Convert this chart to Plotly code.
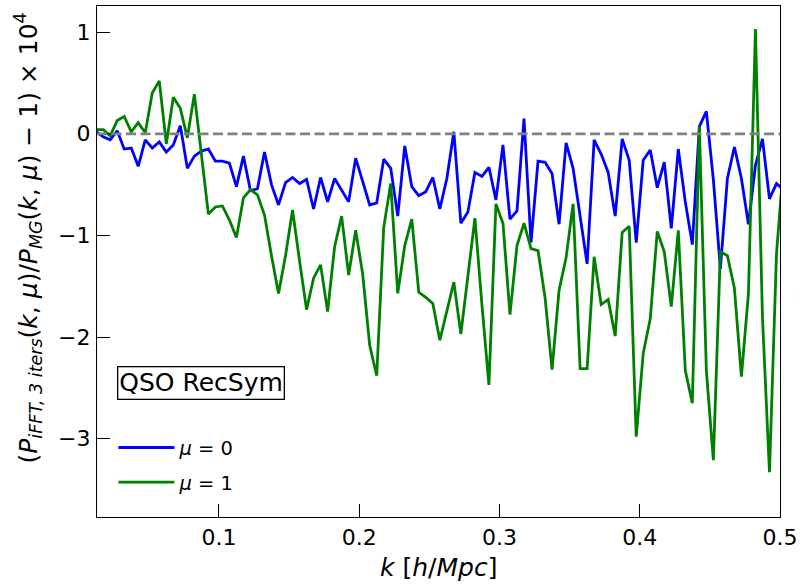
import plotly.graph_objects as go

# k bins [h/Mpc]
k = [0.0125, 0.0175, 0.0225, 0.0275, 0.0325, 0.0375, 0.0425, 0.0475, 0.0525, 0.0575,
     0.0625, 0.0675, 0.0725, 0.0775, 0.0825, 0.0875, 0.0925, 0.0975, 0.1025, 0.1075,
     0.1125, 0.1175, 0.1225, 0.1275, 0.1325, 0.1375, 0.1425, 0.1475, 0.1525, 0.1575,
     0.1625, 0.1675, 0.1725, 0.1775, 0.1825, 0.1875, 0.1925, 0.1975, 0.2025, 0.2075,
     0.2125, 0.2175, 0.2225, 0.2275, 0.2325, 0.2375, 0.2425, 0.2475, 0.2525, 0.2575,
     0.2625, 0.2675, 0.2725, 0.2775, 0.2825, 0.2875, 0.2925, 0.2975, 0.3025, 0.3075,
     0.3125, 0.3175, 0.3225, 0.3275, 0.3325, 0.3375, 0.3425, 0.3475, 0.3525, 0.3575,
     0.3625, 0.3675, 0.3725, 0.3775, 0.3825, 0.3875, 0.3925, 0.3975, 0.4025, 0.4075,
     0.4125, 0.4175, 0.4225, 0.4275, 0.4325, 0.4375, 0.4425, 0.4475, 0.4525, 0.4575,
     0.4625, 0.4675, 0.4725, 0.4775, 0.4825, 0.4875, 0.4925, 0.4975, 0.5025]

# (P_iFFT / P_MG - 1) x 1e4, mu = 0
ratio_mu0 = [0.02, -0.03, -0.06, 0.03, -0.15, -0.14, -0.32, -0.06, -0.14, -0.08,
             -0.18, -0.11, 0.08, -0.34, -0.22, -0.17, -0.15, -0.27, -0.27, -0.29,
             -0.52, -0.22, -0.56, -0.54, -0.18, -0.50, -0.70, -0.48, -0.43, -0.49,
             -0.45, -0.74, -0.43, -0.67, -0.44, -0.55, -0.67, -0.24, -0.47, -0.70,
             -0.68, -0.25, -0.34, -0.81, -0.12, -0.52, -0.61, -0.57, -0.43, -0.74,
             -0.44, 0.02, -0.88, -0.77, -0.38, -0.42, -0.33, -0.65, -0.11, -0.84,
             -0.76, 0.15, -1.07, -0.27, -0.28, -0.39, -0.89, -0.09, -0.34, -0.80,
             -1.28, -0.06, -0.20, -0.38, -0.81, -0.05, -0.26, -1.07, -0.26, -0.16,
             -0.53, -0.28, -0.93, -0.15, -0.67, -1.09, 0.07, 0.22, -0.45, -1.33,
             -0.44, -0.13, -0.44, -0.89, -0.31, -0.05, -0.64, -0.49, -0.55]

# mu = 1
ratio_mu1 = [0.04, 0.04, -0.02, 0.13, 0.17, 0.02, 0.11, 0.01, 0.40, 0.52,
             -0.10, 0.36, 0.25, -0.04, 0.39, -0.20, -0.79, -0.72, -0.71, -0.85,
             -1.02, -0.63, -0.55, -0.60, -0.80, -1.20, -1.57, -1.20, -0.75, -1.25,
             -1.73, -1.42, -1.29, -1.75, -1.11, -0.81, -1.39, -0.95, -1.38, -2.08,
             -2.38, -0.92, -0.49, -1.57, -1.10, -0.84, -1.56, -1.61, -1.67, -2.03,
             -1.74, -1.46, -1.97, -1.40, -0.83, -1.68, -2.47, -0.69, -0.88, -1.78,
             -1.10, -0.88, -1.13, -1.15, -1.61, -2.32, -1.54, -1.22, -0.69, -2.31,
             -2.31, -1.21, -1.68, -1.63, -1.99, -0.97, -0.91, -2.98, -2.16, -1.82,
             -0.96, -1.16, -1.70, -0.95, -2.33, -2.65, 0.07, -2.33, -3.21, -1.16,
             -1.20, -1.52, -2.39, -1.57, 1.03, -1.81, -3.33, -1.18, -0.30]

x_ticks = [0.1, 0.2, 0.3, 0.4, 0.5]
y_ticks = [-3, -2, -1, 0, 1]

FONT = "DejaVu Sans"

fig = go.Figure()
fig.add_trace(go.Scatter(x=k, y=ratio_mu0, mode="lines", name="<i>μ</i> = 0",
                         line=dict(color="#0000ff", width=2.8),
                         legend="legend", showlegend=True))
fig.add_trace(go.Scatter(x=k, y=ratio_mu1, mode="lines", name="<i>μ</i> = 1",
                         line=dict(color="#008000", width=2.8),
                         legend="legend2", showlegend=True))

fig.add_hline(y=0, line=dict(color="#808080", width=2.8, dash="10px,4.5px"))

axis_style = dict(showline=True, linecolor="black", linewidth=1.3, mirror=True,
                  ticks="inside", ticklen=13, tickwidth=1.3, tickcolor="black",
                  showgrid=False, zeroline=False,
                  tickfont=dict(family=FONT, size=22, color="black"))

fig.update_xaxes(range=[0.0131, 0.5], tickvals=x_ticks,
                 ticktext=[str(t) for t in x_ticks], ticklabelstandoff=0, **axis_style)
fig.update_yaxes(range=[-3.77, 1.257], tickvals=y_ticks, ticklabelstandoff=1, **axis_style)

legend_style = dict(bgcolor="rgba(0,0,0,0)", borderwidth=0, xanchor="left", yanchor="middle",
                    itemwidth=56, font=dict(family=FONT, size=19.5, color="black"))
fig.update_layout(
    showlegend=True,
    legend=dict(x=0.024, y=0.1354, **legend_style),
    legend2=dict(x=0.024, y=0.0678, **legend_style),
)

fig.add_annotation(text="QSO RecSym", xref="paper", yref="paper", x=0.0287, y=0.2617,
                   xanchor="left", yanchor="middle", showarrow=False,
                   font=dict(family=FONT, size=25, color="black"),
                   bordercolor="black", borderwidth=1.3, borderpad=1, bgcolor="white")

fig.add_annotation(text="<i>k</i> [<i>h</i>/<i>Mpc</i>]", xref="paper", yref="paper",
                   x=0.5, y=0, yshift=-50, xanchor="center", yanchor="middle",
                   showarrow=False, font=dict(family=FONT, size=25, color="black"))

fig.add_annotation(text="(<i>P</i><sub><i>iFFT, 3 iters</i></sub>(<i>k</i>, <i>μ</i>)/"
                        "<i>P</i><sub><i>MG</i></sub>(<i>k</i>, <i>μ</i>) − 1) × 10<sup>4</sup>",
                   xref="paper", yref="paper", x=0, xshift=-69, y=0.545,
                   xanchor="center", yanchor="middle", textangle=-90,
                   showarrow=False, font=dict(family=FONT, size=25, color="black"))

fig.update_layout(width=803, height=585, plot_bgcolor="white", paper_bgcolor="white",
                  margin=dict(l=97, r=20, t=5, b=68), font=dict(family=FONT))

# the page body has a default 8px margin; drop it so the figure sits at 0,0
fig.write_html("out.html", config={"displayModeBar": False},
               post_script="document.body.style.margin='0';")
